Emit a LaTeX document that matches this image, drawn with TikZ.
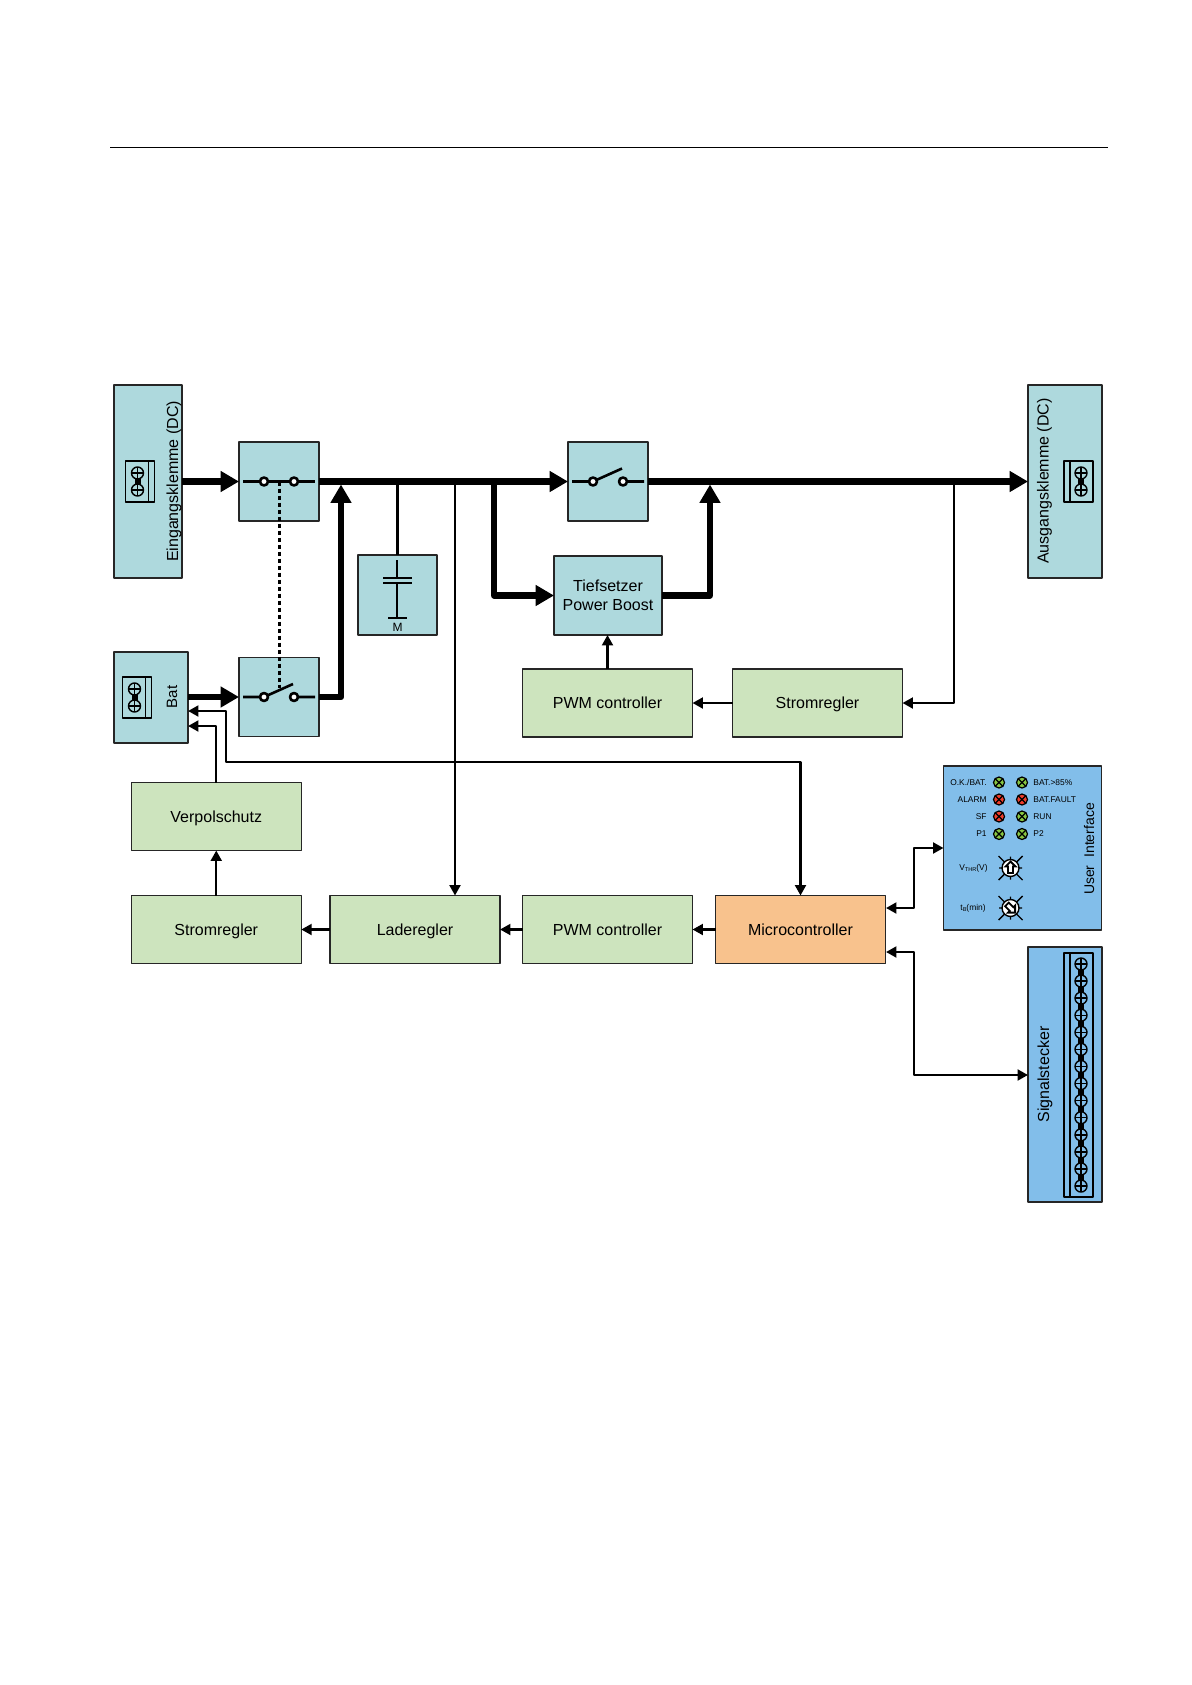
\documentclass[tikz,border=0pt]{standalone}
\usepackage{fontspec}
\setmainfont{Liberation Sans}
\usepackage{tikz}
\usetikzlibrary{arrows.meta}

\definecolor{tealfill}{RGB}{174,217,221}
\definecolor{greenfill}{RGB}{205,228,190}
\definecolor{orangefill}{RGB}{248,194,141}
\definecolor{bluefill}{RGB}{130,190,234}
\definecolor{ledgreen}{RGB}{136,198,66}
\definecolor{ledred}{RGB}{240,62,44}

\tikzset{
  pics/screw/.style={code={
    \draw[line width=0.7pt,fill=#1] (0,0) circle (6);
    \draw[line width=0.7pt] (-6,0) -- (6,0) (0,-6) -- (0,6);
  }},
  pics/terminal/.style={code={
    \draw[line width=0.75pt] (-14.5,-20.5) rectangle (14.5,20.5);
    \draw[line width=0.75pt] (8.5,-20.5) -- (8.5,20.5);
    \draw[line width=3pt] (-2.5,-8.5) -- (-2.5,8.5);
    \pic at (-2.5,-8.5) {screw=#1};
    \pic at (-2.5,8.5) {screw=#1};
  }},
  pics/closedswitch/.style={code={
    \draw[line width=1.3pt] (-36,0) -- (36,0);
    \draw[line width=1.3pt,fill=white] (-15,0) circle (4) (15,0) circle (4);
  }},
  pics/openswitch/.style={code={
    \draw[line width=1.3pt] (-36,0) -- (-15,0) (15,0) -- (36,0) (-15,0) -- (14,-13);
    \draw[line width=1.3pt,fill=white] (-15,0) circle (4) (15,0) circle (4);
  }},
  pics/led/.style={code={
    \draw[line width=0.6pt,fill=#1] (0,0) circle (5.5);
    \draw[line width=0.6pt] (-3.9,-3.9) -- (3.9,3.9) (-3.9,3.9) -- (3.9,-3.9);
  }},
  pics/knob/.style={code={
    \draw[line width=0.7pt] (-12,-12) -- (12,12) (-12,12) -- (12,-12) (-11.5,0) -- (11.5,0) (0,-11.5) -- (0,11.5);
    \draw[line width=0.7pt,fill=white] (0,0) circle (8.5);
    \draw[rotate=#1,line width=0.9pt,fill=white,line join=miter] (0,-6.5) -- (5,-1.5) -- (2.5,-1.5) -- (2.5,5) -- (-2.5,5) -- (-2.5,-1.5) -- (-5,-1.5) -- cycle;
  }}
}

\begin{document}
\begin{tikzpicture}[x=0.5pt, y=-0.5pt, line join=round,
    box/.style={draw=black!85, line width=0.7pt, inner sep=0pt, outer sep=0pt, font=\fontsize{8}{9.5}\selectfont, align=center},
    tealbox/.style={box, fill=tealfill},
    switchbox/.style={tealbox, minimum width=40pt, minimum height=39.5pt},
    greenbox/.style={box, fill=greenfill, minimum width=85pt, minimum height=34pt, text height=6.8pt, text depth=1pt},
    bigarrow/.style={line width=3.2pt, -{Triangle[length=9.2pt,width=10pt]}},
    smallline/.style={line width=1.2pt},
    smallarrow/.style={line width=1.2pt, -{Triangle[length=5.2pt,width=5.4pt]}},
    dualarrow/.style={line width=1.2pt, {Triangle[length=5.2pt,width=5.4pt]}-{Triangle[length=5.2pt,width=5.4pt]}},
    sidelabel/.style={rotate=90, inner sep=0pt, font=\fontsize{8}{9.5}\selectfont},
    leftled/.style={anchor=east, inner sep=0pt, font=\fontsize{4.2}{5}\selectfont},
    rightled/.style={anchor=west, inner sep=0pt, font=\fontsize{4.2}{5}\selectfont}]
  \useasboundingbox (0,0) rectangle (1192,1685);

  % rule on top of the page
  \coordinate (ruleL) at (110,148);
  \coordinate (ruleR) at (1108,148);
  \draw[line width=0.5pt] (ruleL) -- (ruleR);

  % teal blocks
  \node (ein) [tealbox, minimum width=34pt, minimum height=96.5pt] at (148,481.5) {};
  \node (aus) [tealbox, minimum width=37pt, minimum height=96.5pt] at (1065,481.5) {};
  \node (bat) [tealbox, minimum width=37pt, minimum height=45.5pt] at (151,697.5) {};
  \node (swA) [switchbox] at (279,481.5) {};
  \node (swB) [switchbox] at (279,697) {};
  \node (swC) [switchbox] at (608,481.5) {};
  \node (cap) [tealbox, minimum width=39.5pt, minimum height=40pt] at (397.5,595) {};
  \node (tief) [tealbox, minimum width=54pt, minimum height=39.5pt] at (608,595.5) {Tiefsetzer\\Power Boost};

  % green blocks
  \node (pwmA) [greenbox] at (607.5,703) {PWM controller};
  \node (stromA) [greenbox] at (817.5,703) {Stromregler};
  \node (verpol) [greenbox] at (216.25,816.5) {Verpolschutz};
  \node (stromB) [greenbox] at (216.25,929.5) {Stromregler};
  \node (lade) [greenbox] at (415,929.5) {Laderegler};
  \node (pwmB) [greenbox] at (607.5,929.5) {PWM controller};
  \node (micro) [greenbox, fill=orangefill] at (800.5,929.5) {Microcontroller};

  % blue blocks
  \node (ui) [box, fill=bluefill, minimum width=79pt, minimum height=82pt] at (1022.5,848) {};
  \node (sig) [box, fill=bluefill, minimum width=37pt, minimum height=127.5pt] at (1065,1074.5) {};

  % labels on the side
  \node (einlabel) [sidelabel] at (174,481.5) {Eingangsklemme (DC)};
  \node (auslabel) [sidelabel] at (1044.5,481) {Ausgangsklemme (DC)};
  \node (batlabel) [sidelabel, font=\fontsize{7.5}{9}\selectfont] at (172,697) {Bat};
  \node (uilabel) [sidelabel, font=\fontsize{7}{9}\selectfont] at (1089,849) {User\ \ Interface};
  \node (siglabel) [sidelabel] at (1045,1074.5) {Signalstecker};

  % helper points on the bus
  \coordinate (busA) at (341,484.5);
  \coordinate (busB) at (710,484.5);
  \coordinate (busC) at (397.5,481.5);
  \coordinate (busD) at (455,481.5);
  \coordinate (busE) at (494,481.5);
  \coordinate (busF) at (954,481.5);
  \coordinate (batA) at (188,711);
  \coordinate (batB) at (188,726);
  \coordinate (bendA) at (226,711);
  \coordinate (bendB) at (226,762);
  \coordinate (microA) at (886,908);
  \coordinate (microB) at (886,952);
  \coordinate (bendC) at (914,848);
  \coordinate (bendD) at (914,1075);
  \coordinate (leverA) at (279,481.5);
  \coordinate (leverB) at (279,688);

  % thin lines
  \draw[smallline] (busC) -- (cap.north);
  \draw[smallarrow] (busD) -- (busD |- lade.north);
  \draw[smallarrow] (busF) |- (stromA.east);
  \draw[smallarrow] (stromA.west) -- (pwmA.east);
  \draw[smallarrow] (pwmA.north) -- (pwmA.north |- tief.south);
  \draw[dualarrow] (batA) -- (bendA) -- (bendB) -| (micro.north);
  \draw[smallarrow] (verpol.north) |- (batB);
  \draw[smallarrow] (stromB.north) -- (verpol.south);
  \draw[smallarrow] (lade.west) -- (stromB.east);
  \draw[smallarrow] (pwmB.west) -- (lade.east);
  \draw[smallarrow] (micro.west) -- (pwmB.east);
  \draw[dualarrow] (microA) -| (bendC) -- (bendC -| ui.west);
  \draw[dualarrow] (microB) -| (bendD) -- (bendD -| sig.west);
  \draw[line width=1.5pt, dash pattern=on 2pt off 1.5pt] (leverA) -- (leverB);

  % thick lines
  \draw[bigarrow] (ein.east) -- (swA.west);
  \draw[bigarrow] (swA.east) -- (swC.west);
  \draw[bigarrow] (swC.east) -- (aus.west);
  \draw[bigarrow] (bat.east |- swB) -- (swB.west);
  \draw[bigarrow] (swB.east) -| (busA);
  \draw[bigarrow] (busE) |- (tief.west);
  \draw[bigarrow] (tief.east) -| (busB);

  % switches
  \pic at (swA) {closedswitch};
  \pic at (swB) {openswitch};
  \pic at (swC) {openswitch};

  % capacitor
  \draw[line width=1.3pt] (397,560) -- (397,578);
  \draw[line width=1.3pt] (397,583) -- (397,618);
  \draw[line width=1.3pt] (383,578) -- (412,578);
  \draw[line width=1.3pt] (383,583) -- (412,583);
  \draw[line width=1.3pt] (388,618) -- (407,618);
  \node (caplabel) [inner sep=0pt, font=\fontsize{6}{7}\selectfont] at (397.5,627) {M};

  % terminals
  \pic at (140,481.5) {terminal=tealfill};
  \pic at (137,697.5) {terminal=tealfill};
  \pic[xscale=-1] at (1078.5,481.5) {terminal=tealfill};

  % signal plug
  \draw[line width=0.75pt] (1064,953) rectangle (1093,1197);
  \draw[line width=0.75pt] (1070,953) -- (1070,1197);
  \draw[line width=3pt] (1081,964) -- (1081,1186);
  \foreach \pos in {0,...,13}
    \pic at (1081,964+17.08*\pos) {screw=bluefill};

  % user interface
  \pic at (999,782.5) {led=ledgreen};
  \pic at (1022,782.5) {led=ledgreen};
  \pic at (999,799.5) {led=ledred};
  \pic at (1022,799.5) {led=ledred};
  \pic at (999,816.5) {led=ledred};
  \pic at (1022,816.5) {led=ledgreen};
  \pic at (999,834) {led=ledgreen};
  \pic at (1022,834) {led=ledgreen};
  \node (okbat) [leftled] at (987,782.5) {O.K./BAT.};
  \node (alarm) [leftled] at (987,799.5) {ALARM};
  \node (sf) [leftled] at (987,816.5) {SF};
  \node (pone) [leftled] at (987,834) {P1};
  \node (batfull) [rightled] at (1033,782.5) {BAT.>85\%};
  \node (batfault) [rightled] at (1033,799.5) {BAT.FAULT};
  \node (run) [rightled] at (1033,816.5) {RUN};
  \node (ptwo) [rightled] at (1033,834) {P2};
  \pic at (1010.5,868) {knob=0};
  \pic at (1010.5,908) {knob=-135};
  \node (vthr) [leftled] at (988,868.5) {V\raisebox{-0.5pt}{\fontsize{2.8}{3}\selectfont THR}(V)};
  \node (tb) [leftled] at (986,908) {t\raisebox{-0.5pt}{\fontsize{2.8}{3}\selectfont B}(min)};
\end{tikzpicture}
\end{document}
